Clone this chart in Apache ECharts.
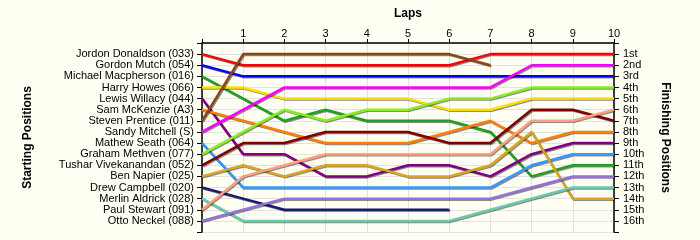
<!DOCTYPE html>
<html>
<head>
<meta charset="utf-8">
<script src="https://cdn.jsdelivr.net/npm/echarts@6/dist/echarts.min.js"></script>
<style>
html,body{margin:0;padding:0;background:#FFFFF4;}
#c{width:700px;height:240px;}
</style>
</head>
<body>
<div id="c"></div>
<script>
const drivers = [
  'Jordon Donaldson (033)', 'Gordon Mutch (054)', 'Michael Macpherson (016)', 'Harry Howes (066)',
  'Lewis Willacy (044)', 'Sam McKenzie (A3)', 'Steven Prentice (011)', 'Sandy Mitchell (S)',
  'Mathew Seath (064)', 'Graham Methven (077)', 'Tushar Vivekanandan (052)', 'Ben Napier (025)',
  'Drew Campbell (020)', 'Merlin Aldrick (028)', 'Paul Stewart (091)', 'Otto Neckel (088)'
];
const finishLabels = ['1st','2nd','3rd','4th','5th','6th','7th','8th','9th','10th','11th','12th','13th','14th','15th','16th'];
const lapLabels = ['', '1', '2', '3', '4', '5', '6', '7', '8', '9', '10'];

const posJordon   = [1,2,2,2,2,2,2,1,1,1,1];
const posGordon   = [2,3,3,3,3,3,3,3,3,3,3];
const posMichael  = [3,5,7,6,7,7,7,8,12,11,11];
const posHarry    = [4,4,5,5,5,5,6,6,5,5,5];
const posLewis    = [5,10,10,12,12,11,11,12,10,9,9];
const posSam      = [6,7,8,9,9,9,8,7,9,8,8];
const posSteven   = [7,1,1,1,1,1,1,2];
const posSandy    = [8,6,4,4,4,4,4,4,2,2,2];
const posMathew   = [9,13,13,13,13,13,13,13,11,10,10];
const posGraham   = [10,8,6,7,6,6,5,5,4,4,4];
const posTushar   = [11,9,9,8,8,8,9,9,6,6,7];
const posBen      = [12,11,12,11,11,12,12,11,8,14,14];
const posDrew     = [13,14,15,15,15,15,15];
const posMerlin   = [14,16,16,16,16,16,16,15,14,13,13];
const posPaul     = [15,12,11,10,10,10,10,10,7,7,6];
const posOtto     = [16,15,14,14,14,14,14,14,13,12,12];

const allPositions = [posJordon,posGordon,posMichael,posHarry,posLewis,posSam,posSteven,posSandy,
  posMathew,posGraham,posTushar,posBen,posDrew,posMerlin,posPaul,posOtto];
const colors = ['#FF0000','#0000FF','#22A022','#FFE000','#800080','#FF8000','#8B4513','#FF00FF',
  '#3399FF','#88EE22','#800000','#DAA520','#191970','#66CDAA','#FFA07A','#9370DB'];

const series = allPositions.map((p, i) => ({
  type: 'line',
  name: drivers[i],
  data: p.map((v, lap) => [lap, v]),
  symbol: 'none',
  lineStyle: {
    color: colors[i], width: 2.5,
    shadowColor: 'rgba(0,0,0,0.45)', shadowBlur: 0, shadowOffsetX: 1, shadowOffsetY: 1
  },
  itemStyle: { color: colors[i] },
  z: 3
}));

const font = 'Liberation Sans, Arial, sans-serif';
const chart = echarts.init(document.getElementById('c'), null, {renderer: 'canvas'});
chart.setOption({
  animation: false,
  backgroundColor: '#FFFFF4',
  grid: { left: 202, top: 43, width: 412, height: 189, containLabel: false },
  xAxis: {
    type: 'value', position: 'top', min: 0, max: 10, interval: 1,
    name: 'Laps', nameLocation: 'middle', nameGap: 23,
    nameTextStyle: { fontFamily: font, fontWeight: 'bold', fontSize: 12, color: '#000' },
    axisLine: { show: true, lineStyle: { color: '#000', width: 1.5 } },
    axisTick: { show: true, length: 4, lineStyle: { color: '#000' } },
    axisLabel: { fontFamily: font, fontSize: 11, color: '#000', margin: 4,
      formatter: v => lapLabels[v] || '' },
    splitLine: { show: true, lineStyle: { color: '#E2E2E2', width: 1 } }
  },
  yAxis: [{
    type: 'value', position: 'left', inverse: true, min: 0, max: 17, interval: 1,
    name: 'Starting Positions', nameLocation: 'middle', nameGap: 168, nameRotate: 90,
    nameTextStyle: { fontFamily: font, fontWeight: 'bold', fontSize: 12, color: '#000' },
    axisLine: { show: true, onZero: false, lineStyle: { color: '#000', width: 1.5 } },
    axisTick: { show: true, length: 5, lineStyle: { color: '#000' } },
    axisLabel: { fontFamily: font, fontSize: 11, color: '#000', margin: 8,
      formatter: v => drivers[v - 1] || '' },
    splitLine: { show: true, lineStyle: { color: '#E2E2E2', width: 1 } }
  }, {
    type: 'value', position: 'right', inverse: true, min: 0, max: 17, interval: 1,
    name: 'Finishing Positions', nameLocation: 'middle', nameGap: 45, nameRotate: -90,
    nameTextStyle: { fontFamily: font, fontWeight: 'bold', fontSize: 12, color: '#000' },
    axisLine: { show: true, onZero: false, lineStyle: { color: '#000', width: 1.5 } },
    axisTick: { show: true, length: 5, lineStyle: { color: '#000' } },
    axisLabel: { fontFamily: font, fontSize: 11, color: '#000', margin: 9,
      formatter: v => finishLabels[v - 1] || '' },
    splitLine: { show: false }
  }],
  series: series
});
</script>
</body>
</html>
